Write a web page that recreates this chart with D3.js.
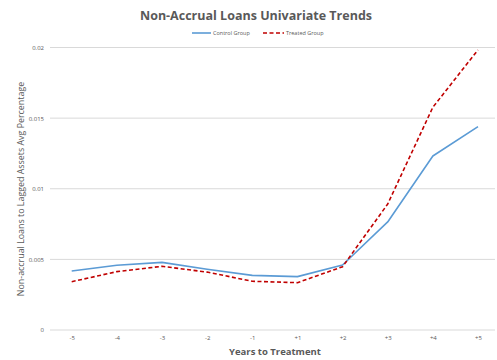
<!DOCTYPE html>
<html>
<head>
<meta charset="utf-8">
<script src="https://cdn.jsdelivr.net/npm/d3@7"></script>
<style>
  html, body { margin: 0; padding: 0; background: #fff; }
  svg { display: block; }
</style>
</head>
<body>
<svg id="chart" width="497" height="360"></svg>
<script>
// Years relative to treatment
const categories = ["-5", "-4", "-3", "-2", "-1", "+1", "+2", "+3", "+4", "+5"];
// Average non-accrual loans / lagged assets
const controlValues = [0.00418, 0.00458, 0.00479, 0.00430, 0.00387, 0.00378, 0.00460, 0.00765, 0.01232, 0.01440];
const treatedValues = [0.00342, 0.00413, 0.00451, 0.00410, 0.00345, 0.00335, 0.00448, 0.00892, 0.01577, 0.01983];
const yTicks = [0, 0.005, 0.01, 0.015, 0.02];
const yTickLabels = ["0", "0.005", "0.01", "0.015", "0.02"];

const svg = d3.select("#chart");
const font = "'Open Sans', 'Liberation Sans', sans-serif";

const x = d3.scalePoint().domain(categories).range([71.7, 478]);
const y = d3.scaleLinear().domain([0, 0.02]).range([330, 47.5]);

// Horizontal gridlines
svg.append("g")
  .selectAll("line")
  .data(yTicks)
  .join("line")
  .attr("x1", 50).attr("x2", 495)
  .attr("y1", d => y(d)).attr("y2", d => y(d))
  .attr("stroke", "#d9d9d9").attr("stroke-width", 1);

// Y axis labels
const yAxis = d3.axisLeft(y).tickValues(yTicks)
  .tickFormat((d, i) => yTickLabels[i]).tickSize(0).tickPadding(0);
svg.append("g")
  .attr("transform", "translate(44,0)")
  .call(yAxis)
  .call(g => g.select(".domain").remove())
  .call(g => g.selectAll("text")
    .attr("font-family", font).attr("font-size", 6)
    .attr("fill", "#595959"));

// X axis labels
const xAxis = d3.axisBottom(x).tickSize(0).tickPadding(0);
svg.append("g")
  .attr("transform", "translate(0,336)")
  .call(xAxis)
  .call(g => g.select(".domain").remove())
  .call(g => g.selectAll("text")
    .attr("font-family", font).attr("font-size", 6)
    .attr("fill", "#595959"));

const line = d3.line().x((d, i) => x(categories[i])).y(d => y(d));

svg.append("path")
  .datum(controlValues)
  .attr("d", line)
  .attr("fill", "none")
  .attr("stroke", "#5b9bd5")
  .attr("stroke-width", 1.6)
  .attr("stroke-linejoin", "round");

svg.append("path")
  .datum(treatedValues)
  .attr("d", line)
  .attr("fill", "none")
  .attr("stroke", "#c00000")
  .attr("stroke-width", 1.6)
  .attr("stroke-dasharray", "4,2.5");

// Title
svg.append("text")
  .attr("x", 256).attr("y", 20)
  .attr("text-anchor", "middle")
  .attr("font-family", font).attr("font-weight", "bold")
  .attr("font-size", 12.5).attr("fill", "#595959")
  .text("Non-Accrual Loans Univariate Trends");

// Legend
const legend = svg.append("g").attr("font-family", font).attr("font-size", 5.5).attr("fill", "#595959");
legend.append("line").attr("x1", 192).attr("x2", 211).attr("y1", 33).attr("y2", 33)
  .attr("stroke", "#5b9bd5").attr("stroke-width", 1.6);
legend.append("text").attr("x", 213).attr("y", 35).text("Control Group");
legend.append("line").attr("x1", 263).attr("x2", 284).attr("y1", 33).attr("y2", 33)
  .attr("stroke", "#c00000").attr("stroke-width", 1.6).attr("stroke-dasharray", "4,2.5");
legend.append("text").attr("x", 286).attr("y", 35).text("Treated Group");

// Axis titles
svg.append("text")
  .attr("transform", "translate(24,189) rotate(-90)")
  .attr("text-anchor", "middle")
  .attr("font-family", font)
  .attr("font-size", 8.9).attr("fill", "#595959")
  .text("Non-accrual Loans to Lagged Assets Avg Percentage");

svg.append("text")
  .attr("x", 275).attr("y", 355)
  .attr("text-anchor", "middle")
  .attr("font-family", font).attr("font-weight", "bold")
  .attr("font-size", 9.5).attr("fill", "#595959")
  .text("Years to Treatment");
</script>
</body>
</html>
